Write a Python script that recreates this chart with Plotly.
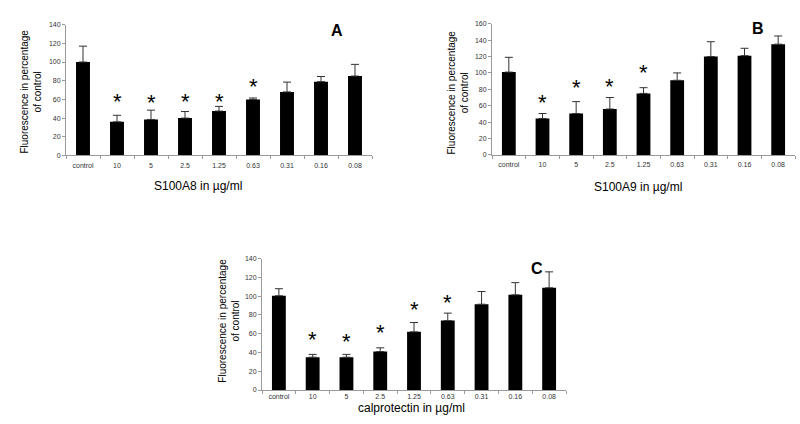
import plotly.graph_objects as go

categories = ["control", "10", "5", "2.5", "1.25", "0.63", "0.31", "0.16", "0.08"]

a_values = [100, 36, 38.5, 40, 47.5, 60, 68, 79, 85]
a_errors = [17, 7, 10, 7, 5, 1.5, 10.5, 5.5, 12.5]
a_star_cats = ["10", "5", "2.5", "1.25", "0.63"]
a_star_y = [58, 57, 58, 58, 74]

b_values = [101, 44.5, 50.5, 56, 75, 91, 120, 121, 135]
b_errors = [18, 6, 14.5, 14, 7, 9, 18, 9, 10]
b_star_cats = ["10", "5", "2.5", "1.25"]
b_star_y = [64, 82, 84, 100]

c_values = [100.5, 35, 35, 41, 62, 74, 91.5, 101.5, 109]
c_errors = [7.5, 3, 3, 4, 10, 8, 13.5, 13, 17]
c_star_cats = ["10", "5", "2.5", "1.25", "0.63"]
c_star_y = [53.5, 52, 61, 85.5, 93]

x_titles = ["S100A8 in µg/ml", "S100A9 in µg/ml", "calprotectin in µg/ml"]
y_title = "Fluorescence in percentage<br>of control"
panel_letters = ["A", "B", "C"]

W, H = 800, 424
FONT = "Liberation Sans, Arial, sans-serif"


def px(x):
    return x / W


def py(y):
    return 1 - y / H


panels = [
    dict(vals=a_values, errs=a_errors, sc=a_star_cats, sy=a_star_y,
         xd=[66, 372], yd=[154, 21], yr=[0, 140], lab_off=3,
         ytitle=(31, 89), xtitle=(198, 185.5), letter=(337, 27)),
    dict(vals=b_values, errs=b_errors, sc=b_star_cats, sy=b_star_y,
         xd=[492, 795], yd=[153.5, 20], yr=[0, 160], lab_off=3,
         ytitle=(458, 90), xtitle=(638, 186), letter=(758, 25)),
    dict(vals=c_values, errs=c_errors, sc=c_star_cats, sy=c_star_y,
         xd=[262, 566], yd=[392.5, 259], yr=[0, 140], lab_off=0,
         ytitle=(229, 322), xtitle=(411, 411), letter=(537, 269)),
]

fig = go.Figure()
annotations = []
layout = {}

for i, p in enumerate(panels):
    n = "" if i == 0 else str(i + 1)
    xa, ya = "x" + n, "y" + n
    fig.add_trace(go.Bar(
        x=categories, y=p["vals"], xaxis=xa, yaxis=ya,
        marker=dict(color="black", line=dict(width=0)),
        error_y=dict(type="data", symmetric=False, array=p["errs"],
                     arrayminus=[0] * len(p["errs"]),
                     color="#333333", thickness=1, width=4),
        showlegend=False,
    ))
    axis_common = dict(showline=True, linecolor="#9a9a9a", linewidth=1,
                       ticks="outside", ticklen=3, tickcolor="#9a9a9a",
                       showgrid=False, zeroline=False, tickangle=0,
                       tickfont=dict(family=FONT, size=7, color="#333333"))
    layout["xaxis" + n] = dict(
        domain=[px(p["xd"][0]), px(p["xd"][1])], anchor=ya,
        type="category", categoryorder="array", categoryarray=categories,
        range=[-0.5, len(categories) - 0.5], ticklabelstandoff=p["lab_off"],
        tickson="boundaries", **axis_common)
    layout["yaxis" + n] = dict(
        domain=[py(p["yd"][0]), py(p["yd"][1])], anchor=xa,
        range=p["yr"], dtick=20, **axis_common)
    for c, y in zip(p["sc"], p["sy"]):
        annotations.append(dict(x=categories.index(c), y=y, xref=xa, yref=ya,
                                text="*", showarrow=False, yshift=0,
                                xanchor="center", yanchor="middle",
                                font=dict(family=FONT, size=22, color="black")))
    annotations.append(dict(x=px(p["ytitle"][0]), y=py(p["ytitle"][1]),
                            xref="paper", yref="paper", text=y_title,
                            textangle=-90, showarrow=False,
                            xanchor="center", yanchor="middle",
                            font=dict(family=FONT, size=10, color="black")))
    annotations.append(dict(x=px(p["xtitle"][0]), y=py(p["xtitle"][1]),
                            xref="paper", yref="paper", text=x_titles[i],
                            showarrow=False, xanchor="center", yanchor="middle",
                            font=dict(family=FONT, size=12, color="black")))
    annotations.append(dict(x=px(p["letter"][0]), y=py(p["letter"][1]),
                            xref="paper", yref="paper",
                            text="<b>" + panel_letters[i] + "</b>",
                            showarrow=False, xanchor="center", yanchor="middle",
                            font=dict(family=FONT, size=16, color="black")))

fig.update_layout(
    width=W, height=H, margin=dict(l=0, r=0, t=0, b=0),
    paper_bgcolor="white", plot_bgcolor="white",
    bargap=0.59, annotations=annotations, **layout)

fig.write_html("out.html", config={"displayModeBar": False},
               post_script="document.body.style.margin='0';"
                           "document.body.style.overflow='hidden';")
